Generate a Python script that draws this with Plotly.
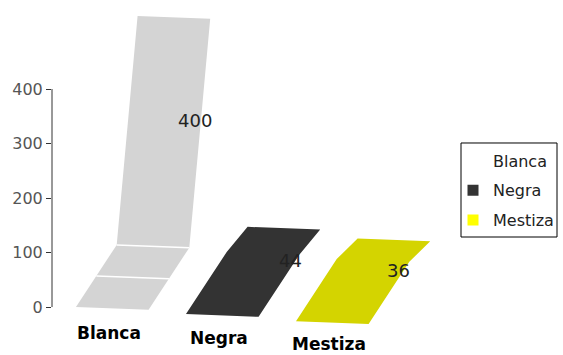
import plotly.graph_objects as go

# ---- data ----
categories = ["Blanca", "Negra", "Mestiza"]
values = [400, 44, 36]
y_ticks = [0, 100, 200, 300, 400]

# ---- style ----
fill_colors = ["#d4d4d4", "#333333", "#d4d400"]
legend_colors = ["#ffffff", "#333333", "#ffff00"]
divider_colors = ["#ffffff", None, None]

# pseudo-3D geometry (in axis units: x = category step, y = value units)
W = 0.66      # bar front width
DROP = 5      # front edge droop
DX, DY = 0.37, 114   # floor depth projection
LEAN = 0.19   # lean of the vertical face
K = 1.05      # value scale of the vertical face
STEP_Y = -13  # perspective drop per category
LABEL_FRAC = 0.65


def right_edge_x(pts, y):
    """x on the polyline pts (list of (x, y), increasing y) at height y."""
    for (xa, ya), (xb, yb) in zip(pts[:-1], pts[1:]):
        if ya <= y <= yb:
            t = (y - ya) / (yb - ya)
            return xa + t * (xb - xa)
    return pts[-1][0]


fig = go.Figure()

for i, (cat, v) in enumerate(zip(categories, values)):
    x0, y0 = float(i), STEP_Y * i
    BL = (x0, y0)
    BR = (x0 + W, y0 - DROP)
    FR = (x0 + W + DX, y0 - DROP + DY)
    TR = (FR[0] + LEAN, FR[1] + K * v)
    FL = (x0 + DX, y0 + DY)
    TL = (FL[0] + LEAN, FL[1] + K * v)
    pts = [BL, BR, FR, TR, TL, FL, BL]
    fig.add_trace(go.Scatter(
        x=[p[0] for p in pts], y=[p[1] for p in pts],
        mode="lines", fill="toself", fillcolor=fill_colors[i],
        line=dict(width=0, color=fill_colors[i]),
        hoverinfo="skip", showlegend=False))
    if divider_colors[i]:
        mid_l = ((BL[0] + FL[0]) / 2, (BL[1] + FL[1]) / 2)
        mid_r = ((BR[0] + FR[0]) / 2, (BR[1] + FR[1]) / 2)
        for a, b in [(mid_l, mid_r), (FL, FR)]:
            fig.add_trace(go.Scatter(
                x=[a[0], b[0]], y=[a[1], b[1]], mode="lines",
                line=dict(width=1.5, color=divider_colors[i]),
                hoverinfo="skip", showlegend=False))
    # value label near the right edge
    ly = BR[1] + LABEL_FRAC * (TR[1] - BR[1])
    lx = right_edge_x([BR, FR, TR], ly)
    fig.add_annotation(x=lx - 0.05, y=ly, text=str(v), showarrow=False,
                       font=dict(family="DejaVu Sans", size=18, color="#222222"))
    # category label
    fig.add_annotation(x=x0 + 0.3, y=0.8 * y0 - 47, text="<b>%s</b>" % cat,
                       showarrow=False,
                       font=dict(family="DejaVu Sans", size=17, color="#000000"))

# legend entries
for i, cat in enumerate(categories):
    fig.add_trace(go.Scatter(
        x=[None], y=[None], mode="markers", name=cat, legendgroup=cat,
        marker=dict(symbol="square", size=11, color=legend_colors[i],
                    line=dict(width=0))))

# y axis line (0..400)
fig.add_shape(type="line", xref="paper", yref="y", x0=0, x1=0,
              y0=y_ticks[0], y1=y_ticks[-1], line=dict(color="#333333", width=1))
# legend frame
fig.add_shape(type="rect", xref="paper", yref="paper",
              x0=1.0225, x1=1.2625, y0=0.342, y1=0.6145,
              line=dict(color="#000000", width=1), fillcolor="rgba(0,0,0,0)")

fig.update_layout(
    width=563, height=355,
    margin=dict(l=52, r=111, t=10, b=0),
    paper_bgcolor="white", plot_bgcolor="white",
    xaxis=dict(range=[-0.218, 3.418], visible=False, fixedrange=True),
    yaxis=dict(range=[-88.0, 545.0], tickvals=y_ticks, ticks="outside",
               ticklen=5, tickcolor="#333333", showgrid=False, zeroline=False,
               showline=False, tickfont=dict(family="DejaVu Sans", size=16, color="#555555")),
    legend=dict(x=1.0025, y=0.613, xanchor="left", yanchor="top",
                borderwidth=0, bgcolor="rgba(0,0,0,0)", tracegroupgap=6,
                font=dict(family="DejaVu Sans", size=16, color="#222222")),
    showlegend=True,
)

fig.write_html("out.html")
